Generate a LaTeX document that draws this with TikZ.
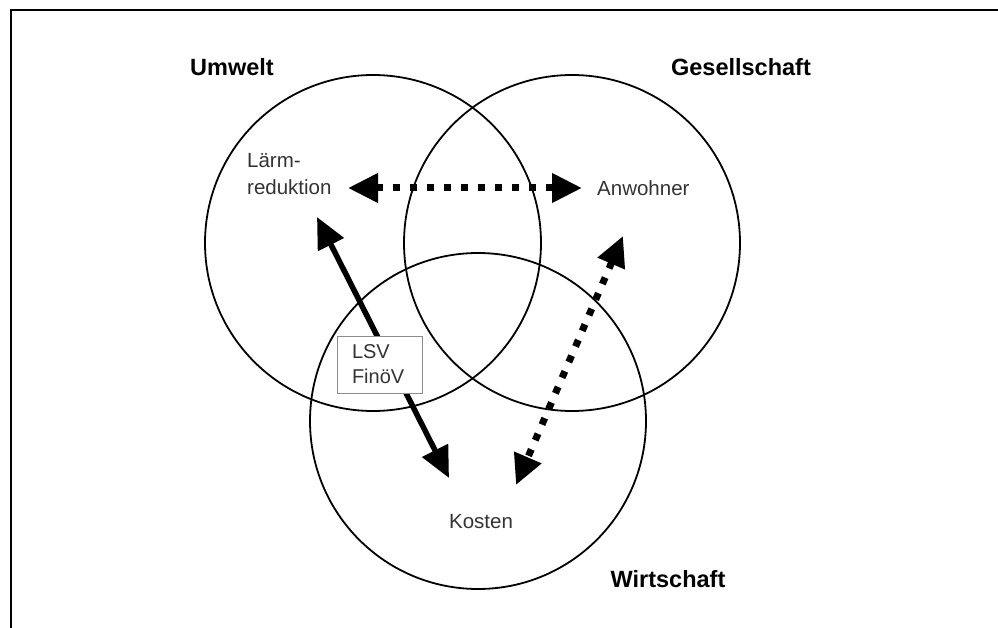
\documentclass[tikz,border=0pt]{standalone}
\usepackage{fontspec}
\setmainfont{Liberation Sans}
\usetikzlibrary{arrows.meta,positioning}

\tikzset{
  ring/.style={draw, circle, line width=1.8pt, minimum size=336pt, inner sep=0pt},
  areatitle/.style={font=\bfseries\fontsize{23.5}{27}\selectfont, text=black},
  itemtext/.style={font=\fontsize{20.5}{27}\selectfont, text=black!80, align=left, inner sep=0pt},
  lawbox/.style={draw=black!45, line width=0.8pt, fill=white, align=left, text width=55pt,
    inner xsep=15pt, minimum height=57pt, font=\fontsize{20}{25}\selectfont, text=black!80},
  dotarrow/.style={line width=7pt, dash pattern=on 7pt off 10pt, line cap=butt, {Triangle[length=30pt, width=28pt]}-{Triangle[length=30pt, width=28pt]}},
  solidarrow/.style={line width=5.5pt, {Triangle[length=31pt, width=28pt]}-{Triangle[length=31pt, width=28pt]}}
}

\begin{document}
\begin{tikzpicture}[x=1pt, y=-1pt]
  \useasboundingbox (0,0) rectangle (998,628);
  % frame
  \draw[line width=2pt] (11,628) -- (11,10) -- (998,10);

  % the three areas
  \node[ring] (umwelt) at (373,243) {};
  \node[ring] (gesellschaft) at (572,243) {};
  \node[ring] (wirtschaft) at (478,421) {};

  \node[areatitle] (tUmwelt) at (232,67) {Umwelt};
  \node[areatitle] (tGesellschaft) at (741,67) {Gesellschaft};
  \node[areatitle] (tWirtschaft) at (668,579) {Wirtschaft};

  % items
  \node[itemtext, anchor=west] (laerm) at (247,174) {Lärm-\\reduktion};
  \node[itemtext, anchor=west] (anwohner) at (597,188) {Anwohner};
  \node[itemtext] (kosten) at (481,522) {Kosten};

  % arrow ends
  \coordinate (laermR) at (348,188);
  \coordinate (laermB) at (317,217);
  \coordinate (anwohnerL) at (582,188);
  \coordinate (anwohnerB) at (623,236);
  \coordinate (kostenL) at (449,478);
  \coordinate (kostenR) at (516,485);

  \draw[dotarrow] (laermR) -- (anwohnerL);
  \draw[solidarrow] (laermB) -- (kostenL);
  \draw[dotarrow] (anwohnerB) -- (kostenR);

  \node[lawbox] (lsv) at (379.5,364.5) {LSV\\FinöV};
\end{tikzpicture}
\end{document}
